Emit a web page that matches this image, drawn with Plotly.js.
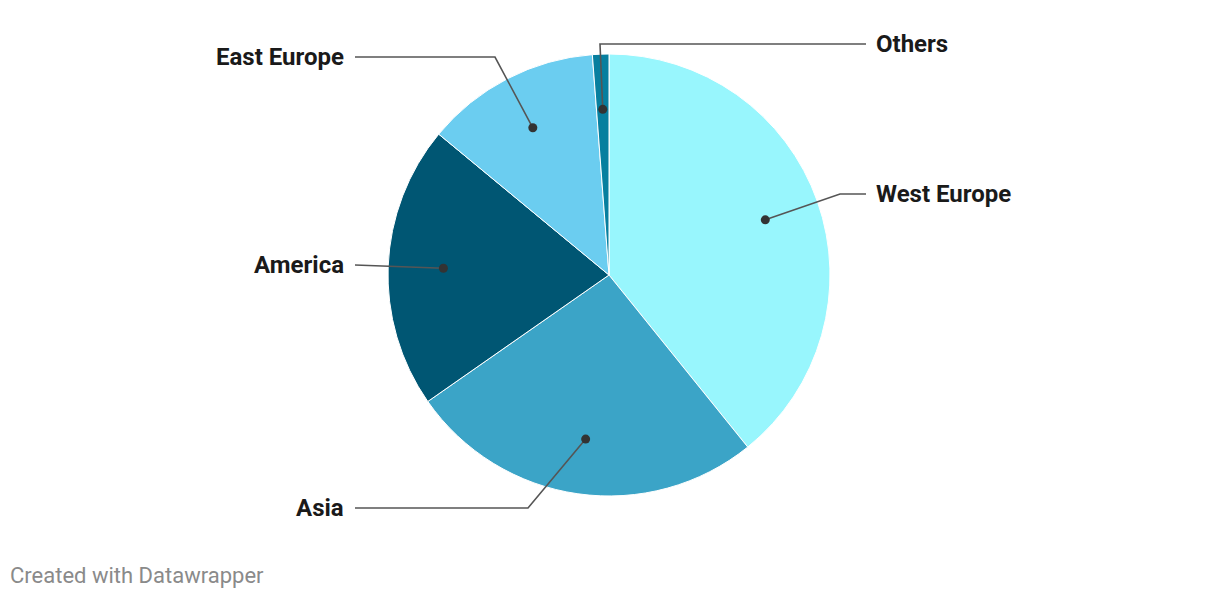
<!DOCTYPE html>
<html>
<head>
<meta charset="utf-8">
<script src="https://cdn.plot.ly/plotly-3.0.1.min.js"></script>
<style>html,body{margin:0;padding:0;background:#fff;}#chart{width:1220px;height:598px;}</style>
</head>
<body>
<div id="chart"></div>
<script>
// ---- data ----
var regions = ["West Europe", "Asia", "America", "East Europe", "Others"];
var shares = [39.2, 26.1, 20.7, 12.8, 1.2];
var sliceColors = ["#98f6fd", "#3ba4c7", "#005673", "#6bcdf0", "#077f9f"];

// ---- layout config (pixel geometry) ----
var W = 1220, H = 598;
var cx = 609, cy = 275, R = 221;
var labelCfg = {
  "West Europe": {side: "right", y: 194, elbowX: 840},
  "Asia":        {side: "left",  y: 508, elbowX: 528},
  "America":     {side: "left",  y: 265, elbowX: null},
  "East Europe": {side: "left",  y: 57,  elbowX: 495},
  "Others":      {side: "right", y: 44,  elbowX: 600}
};
var leftLineEnd = 355, rightLineEnd = 866, leftText = 346, rightText = 874;

var total = shares.reduce(function(a,b){return a+b;},0);
var halfW = 0.3;
var traces = [{
  type: "pie",
  labels: regions,
  values: shares,
  sort: false,
  direction: "clockwise",
  rotation: 0,
  marker: {colors: sliceColors, line: {color: "#ffffff", width: 1}},
  textinfo: "none",
  hoverinfo: "label+percent",
  showlegend: false,
  domain: {x: [cx / W - halfW, cx / W + halfW], y: [(H - cy - R) / H, (H - cy + R) / H]}
}];

var shapes = [];
var annotations = [];
var cum = 0;
regions.forEach(function(name, i) {
  var mid = (cum + shares[i] / 2) / total * 2 * Math.PI;
  cum += shares[i];
  var dx = cx + 0.75 * R * Math.sin(mid);
  var dy = cy - 0.75 * R * Math.cos(mid);
  var c = labelCfg[name];
  var endX = c.side === "right" ? rightLineEnd : leftLineEnd;
  var path = "M" + dx + "," + dy;
  if (c.elbowX !== null) path += " L" + c.elbowX + "," + c.y;
  path += " L" + endX + "," + c.y;
  shapes.push({
    type: "path", xref: "x", yref: "y", path: path, layer: "above",
    line: {color: "#555555", width: 1.6}
  });
  shapes.push({
    type: "circle", xref: "x", yref: "y", layer: "above",
    x0: dx - 4.5, x1: dx + 4.5, y0: dy - 4.5, y1: dy + 4.5,
    fillcolor: "#333333", line: {width: 0}
  });
  annotations.push({
    xref: "x", yref: "y",
    x: c.side === "right" ? rightText : leftText, y: c.y,
    xanchor: c.side === "right" ? "left" : "right", yanchor: "middle",
    text: "<b>" + name + "</b>", showarrow: false,
    font: {family: "Roboto", size: 24, color: "#1a1a1a"}
  });
});

annotations.push({
  xref: "x", yref: "y", x: 8, y: 575, xanchor: "left", yanchor: "middle",
  text: "Created with Datawrapper", showarrow: false,
  font: {family: "Roboto", size: 22, color: "#8a8a8a"}
});

var layout = {
  width: W, height: H,
  margin: {l: 0, r: 0, t: 0, b: 0},
  paper_bgcolor: "#ffffff", plot_bgcolor: "rgba(0,0,0,0)",
  xaxis: {range: [0, W], visible: false, fixedrange: true},
  yaxis: {range: [H, 0], visible: false, fixedrange: true},
  shapes: shapes,
  annotations: annotations,
  showlegend: false
};
Plotly.newPlot("chart", traces, layout, {displayModeBar: false, staticPlot: true});
</script>
</body>
</html>
